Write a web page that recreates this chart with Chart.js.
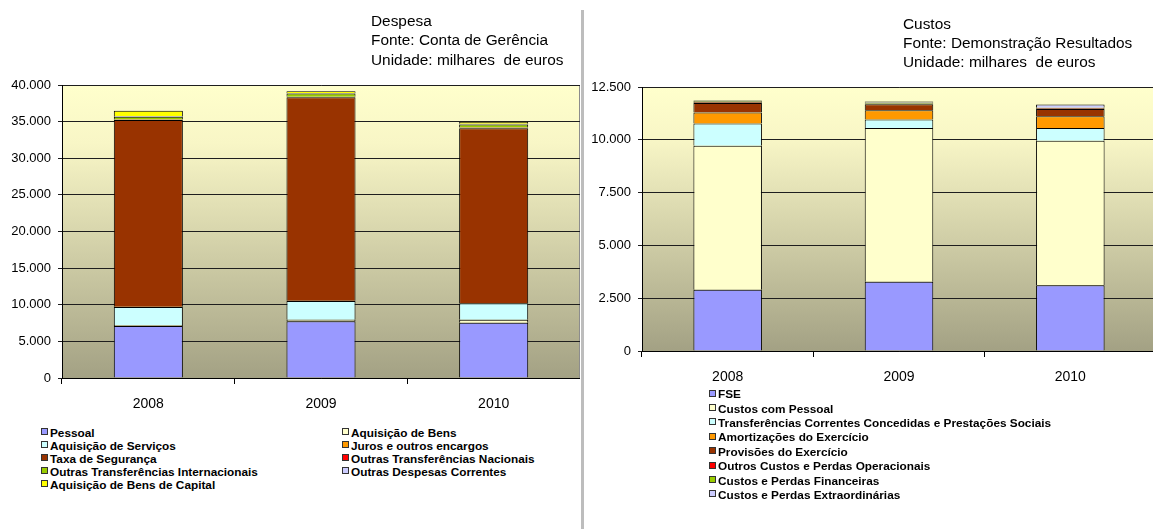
<!DOCTYPE html>
<html lang="pt">
<head>
<meta charset="utf-8">
<title>Despesa e Custos 2008-2010</title>
<script src="https://cdn.jsdelivr.net/npm/chart.js@4.4.1/dist/chart.umd.min.js"></script>
<style>
  html, body { margin: 0; padding: 0; background: #fff; }
  body { width: 1153px; height: 529px; overflow: hidden; position: relative;
         font-family: "Liberation Sans", Arial, sans-serif; color: #000; }
  canvas { position: absolute; top: 0; }
  #leftChart { left: 0; }
  #rightChart { left: 583px; }
  .title { position: absolute; font-size: 15.4px; line-height: 19.3px; white-space: nowrap; }
  #leftTitle { left: 371px; top: 11px; }
  #rightTitle { left: 903px; top: 13.5px; }
  .divider { position: absolute; left: 581px; top: 10px; width: 3px; height: 519px; background: #bdbdbd; }
  .legend { position: absolute; font-size: 11.8px; font-weight: bold; white-space: nowrap; }
  .legend .item { display: flex; align-items: center; height: 13px; }
  .legend .box { display: inline-block; width: 5px; height: 5px; border: 1px solid #333;
                 margin-right: 2px; position: relative; top: -1px; }
  #leftLegend { left: 41px; top: 426px; display: grid; grid-template-columns: 301px auto; }
  #rightLegend { left: 709px; top: 387px; }
  #rightLegend .item { height: 14.4px; }
</style>
</head>
<body>
<canvas id="leftChart" width="580" height="420"></canvas>
<canvas id="rightChart" width="573" height="400"></canvas>
<div class="divider"></div>
<div class="title" id="leftTitle">Despesa<br>Fonte: Conta de Gerência<br>Unidade: milhares&nbsp; de euros</div>
<div class="title" id="rightTitle">Custos<br>Fonte: Demonstração Resultados<br>Unidade: milhares&nbsp; de euros</div>
<div class="legend" id="leftLegend"></div>
<div class="legend" id="rightLegend"></div>
<script>
const years = ["2008", "2009", "2010"];

// Despesa (milhares de euros)
const pessoal = [7100, 7750, 7550];
const aquisicaoBens = [150, 200, 400];
const aquisicaoServicos = [2450, 2550, 2250];
const juros = [30, 30, 50];
const taxaSeguranca = [25500, 27800, 23850];
const outrasTransfNacionais = [50, 50, 100];
const outrasTransfInternacionais = [400, 450, 400];
const outrasDespesasCorrentes = [100, 80, 100];
const bensCapital = [700, 250, 300];

// Custos (milhares de euros)
const fse = [2900, 3280, 3110];
const custosPessoal = [6820, 7280, 6850];
const transferencias = [1050, 400, 600];
const amortizacoes = [520, 440, 550];
const provisoes = [450, 280, 350];
const outrosCustosOperacionais = [40, 40, 30];
const custosFinanceiros = [40, 50, 30];
const custosExtraordinarios = [40, 40, 150];

const FONT = "'Liberation Sans', Arial, sans-serif";

const COLORS = {
    lilac: "#9999ff",
    paleYellow: "#ffffcc",
    paleCyan: "#ccffff",
    orange: "#ff9900",
    brown: "#993300",
    red: "#ff0000",
    green: "#99cc00",
    lavender: "#ccccff",
    yellow: "#ffff00",
};

function formatThousands(value) {
    return String(value).replace(/\B(?=(\d{3})+(?!\d))/g, ".");
}

function series(label, data, color) {
    return {
        label,
        data,
        backgroundColor: color,
        borderColor: "#000",
        borderWidth: 1,
        categoryPercentage: 1,
        barPercentage: 0.4,
    };
}

const plotBackground = {
    id: "plotBackground",
    beforeDraw(chart) {
        const { ctx, chartArea: a } = chart;
        const g = ctx.createLinearGradient(0, a.top, 0, a.bottom);
        g.addColorStop(0, "#ffffcc");
        g.addColorStop(0.2, "#f8f6c6");
        g.addColorStop(1, "#a3a184");
        ctx.save();
        ctx.fillStyle = g;
        ctx.fillRect(a.left, a.top, a.width, a.height);
        ctx.strokeStyle = "#8c8c8c";
        ctx.lineWidth = 1;
        ctx.strokeRect(a.left + 0.5, a.top + 0.5, a.width - 1, a.height);
        ctx.restore();
    },
};

function buildLegend(chart, el) {
    chart.data.datasets.forEach((ds) => {
        const item = document.createElement("div");
        item.className = "item";
        const box = document.createElement("span");
        box.className = "box";
        box.style.background = ds.backgroundColor;
        const text = document.createElement("span");
        text.textContent = ds.label;
        item.append(box, text);
        el.append(item);
    });
}

function makeChart(canvasId, datasets, yMax, yStep, yWidth, xHeight, padTop, legendId) {
    const chart = new Chart(document.getElementById(canvasId), {
        type: "bar",
        data: { labels: years, datasets },
        options: {
            responsive: false,
            animation: false,
            layout: { padding: { top: padTop, right: 0, left: 0, bottom: 0 } },
            plugins: { legend: { display: false }, tooltip: { enabled: false } },
            scales: {
                x: {
                    stacked: true,
                    offset: true,
                    grid: { offset: true, drawOnChartArea: false, tickLength: 6, color: "#000" },
                    border: { color: "#000" },
                    ticks: { color: "#000", padding: 12, font: { family: FONT, size: 14 } },
                    afterFit(scale) { scale.height = xHeight; },
                },
                y: {
                    stacked: true,
                    min: 0,
                    max: yMax,
                    grid: { color: "#1e1e1e", tickLength: 4 },
                    border: { color: "#000" },
                    ticks: {
                        stepSize: yStep,
                        color: "#000",
                        padding: 7,
                        font: { family: FONT, size: 13 },
                        callback: formatThousands,
                    },
                    afterFit(scale) { scale.width = yWidth; },
                },
            },
        },
        plugins: [plotBackground],
    });
    buildLegend(chart, document.getElementById(legendId));
    return chart;
}

makeChart("leftChart", [
    series("Pessoal", pessoal, COLORS.lilac),
    series("Aquisição de Bens", aquisicaoBens, COLORS.paleYellow),
    series("Aquisição de Serviços", aquisicaoServicos, COLORS.paleCyan),
    series("Juros e outros encargos", juros, COLORS.orange),
    series("Taxa de Segurança", taxaSeguranca, COLORS.brown),
    series("Outras Transferências Nacionais", outrasTransfNacionais, COLORS.red),
    series("Outras Transferências Internacionais", outrasTransfInternacionais, COLORS.green),
    series("Outras Despesas Correntes", outrasDespesasCorrentes, COLORS.lavender),
    series("Aquisição de Bens de Capital", bensCapital, COLORS.yellow),
], 40000, 5000, 62, 42, 85, "leftLegend");

makeChart("rightChart", [
    series("FSE", fse, COLORS.lilac),
    series("Custos com Pessoal", custosPessoal, COLORS.paleYellow),
    series("Transferências Correntes Concedidas e Prestações Sociais", transferencias, COLORS.paleCyan),
    series("Amortizações do Exercício", amortizacoes, COLORS.orange),
    series("Provisões do Exercício", provisoes, COLORS.brown),
    series("Outros Custos e Perdas Operacionais", outrosCustosOperacionais, COLORS.red),
    series("Custos e Perdas Financeiras", custosFinanceiros, COLORS.green),
    series("Custos e Perdas Extraordinárias", custosExtraordinarios, COLORS.lavender),
], 12500, 2500, 59, 49, 87, "rightLegend");
</script>
</body>
</html>
